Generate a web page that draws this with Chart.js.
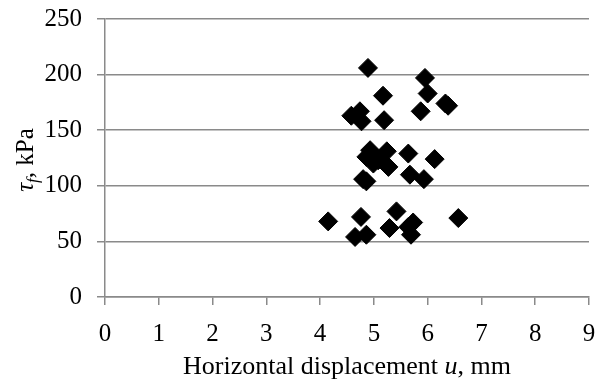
<!DOCTYPE html>
<html>
<head>
<meta charset="utf-8">
<script src="https://cdn.jsdelivr.net/npm/chart.js@4/dist/chart.umd.min.js"></script>
<style>
  html, body { margin: 0; padding: 0; background: #fff; }
  #wrap { width: 612px; height: 381px; }
</style>
</head>
<body>
<div id="wrap"><canvas id="chart" width="612" height="381"></canvas></div>
<script>
// displacement u (mm) and shear strength tau_f (kPa)
var uValues = [4.89, 5.95, 5.17, 6.00, 6.33, 6.38, 5.87, 4.58, 4.74, 4.77,
               5.19, 4.93, 4.86, 5.24, 5.08, 5.27, 4.99, 5.64, 6.13, 4.86,
               4.80, 5.67, 5.93, 4.15, 4.76, 4.65, 4.86, 5.42, 5.29, 5.73,
               5.64, 5.69, 6.57];
var tauValues = [206, 197, 181, 183, 174, 172, 167, 163, 167, 158,
                 159, 132, 126, 131, 123, 117, 120, 129, 124, 104,
                 106, 110, 106, 68, 72, 54, 56, 77, 62, 67,
                 63, 56, 71];
var xTicks = [0, 1, 2, 3, 4, 5, 6, 7, 8, 9];
var yTicks = [0, 50, 100, 150, 200, 250];

var FONT = '"Liberation Serif", "Times New Roman", serif';
var GRID = '#8a8a8a';
var SIZE = 25;

var points = uValues.map(function(u, i) {
  return { x: u, y: tauValues[i] };
});

// axis titles drawn by hand, they mix italic and subscript
var axisTitles = {
  id: 'axisTitles',
  afterDraw: function(chart) {
    var ctx = chart.ctx;
    var area = chart.chartArea;
    ctx.save();
    ctx.fillStyle = '#000';
    ctx.textBaseline = 'alphabetic';

    var parts = [
      ['Horizontal displacement ', ''],
      ['u', 'italic '],
      [', mm', '']
    ];
    var total = 0;
    parts.forEach(function(p) {
      ctx.font = p[1] + '26px ' + FONT;
      total += ctx.measureText(p[0]).width;
    });
    var x = (area.left + area.right) / 2 - total / 2;
    parts.forEach(function(p) {
      ctx.font = p[1] + '26px ' + FONT;
      ctx.fillText(p[0], x, 374);
      x += ctx.measureText(p[0]).width;
    });

    // y title, rotated
    ctx.translate(33, 160);
    ctx.rotate(-Math.PI / 2);
    var yparts = [
      ['\u03C4', 'italic ', SIZE, 0],
      ['f', 'italic ', 17, 5],
      [', kPa', '', SIZE, 0]
    ];
    var w = 0;
    yparts.forEach(function(p) {
      ctx.font = p[1] + p[2] + 'px ' + FONT;
      w += ctx.measureText(p[0]).width;
    });
    var px = -w / 2;
    yparts.forEach(function(p) {
      ctx.font = p[1] + p[2] + 'px ' + FONT;
      ctx.fillText(p[0], px, p[3]);
      px += ctx.measureText(p[0]).width;
    });
    ctx.restore();
  }
};

new Chart(document.getElementById('chart'), {
  type: 'scatter',
  data: {
    datasets: [{
      data: points,
      pointStyle: 'rectRot',
      pointRadius: 9.5,
      pointHoverRadius: 9.5,
      backgroundColor: '#000',
      borderColor: '#000',
      borderWidth: 1
    }]
  },
  options: {
    responsive: false,
    animation: false,
    layout: { padding: { top: 19, right: 23, left: 0, bottom: 0 } },
    plugins: {
      legend: { display: false },
      tooltip: { enabled: false }
    },
    scales: {
      x: {
        type: 'linear',
        min: 0,
        max: 9,
        afterBuildTicks: function(scale) {
          scale.ticks = xTicks.map(function(v) { return { value: v }; });
        },
        afterFit: function(scale) {
          scale.height = 84;
          scale.paddingLeft = 0;
          scale.paddingRight = 0;
        },
        grid: {
          drawOnChartArea: false,
          drawTicks: true,
          tickLength: 8,
          color: GRID,
          lineWidth: 1.5
        },
        border: { display: true, color: GRID, width: 1.5 },
        ticks: {
          color: '#000',
          padding: 14,
          font: { family: FONT, size: SIZE }
        }
      },
      y: {
        type: 'linear',
        min: 0,
        max: 250,
        afterBuildTicks: function(scale) {
          scale.ticks = yTicks.map(function(v) { return { value: v }; });
        },
        afterFit: function(scale) {
          scale.width = 105;
          scale.paddingTop = 0;
          scale.paddingBottom = 0;
        },
        grid: {
          drawOnChartArea: true,
          drawTicks: true,
          tickLength: 8,
          color: GRID,
          lineWidth: 1.5
        },
        border: { display: true, color: GRID, width: 1.5 },
        ticks: {
          color: '#000',
          padding: 15,
          font: { family: FONT, size: SIZE }
        }
      }
    }
  },
  plugins: [axisTitles]
});
</script>
</body>
</html>
